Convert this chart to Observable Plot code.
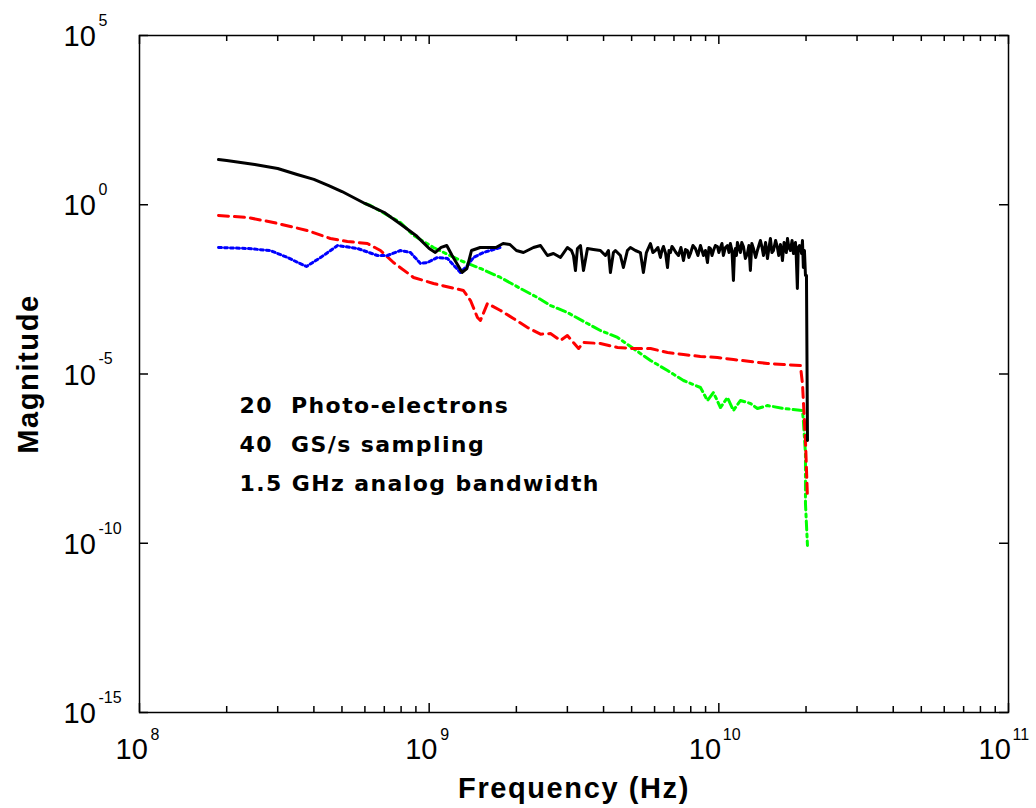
<!DOCTYPE html>
<html><head><meta charset="utf-8">
<script src="https://cdn.jsdelivr.net/npm/d3@7"></script>
<script src="https://cdn.jsdelivr.net/npm/@observablehq/plot@0.6"></script>
<style>
html,body{margin:0;padding:0;background:#fff;}
</style></head><body><div id="chart"></div>
<script>
// ---- data (frequency in Hz, magnitude) ----
const blackFreq = [1.874e8,2.0e8,2.5e8,3.0e8,3.5e8,4.0e8,4.5e8,5.0e8,6.0e8,7.0e8,8.0e8,9.0e8,1.0e9,1.05e9,1.1e9,1.15e9,1.2e9,1.3e9,1.35e9,1.4e9,1.5e9,1.7e9,1.8e9,1.9e9,2.0e9,
  2.116e9,2.291e9,2.423e9,2.561e9,2.686e9,2.84e9,3.0e9,3.099e9,3.149e9,3.199e9,3.25e9,3.329e9,3.41e9,3.52e9,3.69e9,3.90e9,4.06e9,4.157e9,4.224e9,4.326e9,4.395e9,4.573e9,4.683e9,4.834e9,4.951e9,
  5.152e9,5.361e9,5.49e9,5.623e9,5.805e9,5.92e9,6.041e9,6.16e9,6.286e9,6.36e9,6.438e9,6.55e9,6.65e9,6.73e9,6.808e9,6.89e9,6.972e9,7.11e9,7.255e9,7.40e9,7.55e9,7.67e9,7.79e9,7.88e9,7.98e9,
  8.14e9,8.30e9,8.47e9,8.64e9,8.75e9,8.85e9,8.99e9,9.136e9,9.25e9,9.354e9,9.47e9,9.58e9,9.73e9,9.89e9,1.0e10,1.013e10,1.025e10,1.037e10,1.054e10,1.071e10,1.084e10,1.096e10,1.11e10,1.123e10,
  1.132e10,1.141e10,1.15e10,1.159e10,1.173e10,1.187e10,1.20e10,1.216e10,1.235e10,1.255e10,1.27e10,1.285e10,1.30e10,1.317e10,1.34e10,1.359e10,1.375e10,1.392e10,1.41e10,1.426e10,1.45e10,1.472e10,
  1.49e10,1.507e10,1.525e10,1.544e10,1.57e10,1.593e10,1.61e10,1.632e10,1.645e10,1.658e10,1.68e10,1.698e10,1.71e10,1.726e10,1.745e10,1.767e10,1.79e10,1.81e10,1.825e10,1.839e10,1.85e10,1.867e10,
  1.88e10,1.898e10,1.912e10,1.93e10,1.944e10,1.958e10,1.975e10,1.991e10,2.007e10,2.023e10];
const blackMag = [21.7,20.3,15.5,11.8,7.8,5.6,3.7,2.46,1.09,0.59,0.26,0.124,0.051,0.039,0.055,0.0625,0.0316,0.01,0.0131,0.0445,0.0546,0.0546,0.0716,0.067,0.0445,
  0.0388,0.0546,0.0625,0.0317,0.0363,0.0277,0.0546,0.0445,0.0317,0.0114,0.051,0.0625,0.0114,0.051,0.0477,0.0445,0.0317,0.0445,0.00995,0.0388,0.0445,0.0317,0.014,0.0445,0.0546,
  0.0445,0.0388,0.00995,0.0388,0.0716,0.0388,0.0445,0.0546,0.0277,0.0445,0.0585,0.0363,0.014,0.0445,0.0388,0.0585,0.051,0.0388,0.0317,0.0546,0.0225,0.0477,0.0445,0.0277,0.0363,
  0.0625,0.051,0.0317,0.0625,0.0445,0.0317,0.0445,0.0197,0.0546,0.051,0.0317,0.0445,0.0625,0.0585,0.0388,0.0546,0.0716,0.0317,0.0546,0.0625,0.0388,0.0716,0.0445,0.00578,
  0.0363,0.051,0.0317,0.0767,0.0546,0.0388,0.0767,0.0585,0.0258,0.0363,0.0625,0.0114,0.0716,0.051,0.0277,0.0445,0.0625,0.0879,0.0546,0.0317,0.0767,0.0258,
  0.0546,0.1007,0.0388,0.0445,0.0879,0.0546,0.0317,0.067,0.0445,0.0225,0.0767,0.0625,0.0388,0.1007,0.0546,0.0445,0.0879,0.0363,0.0625,0.0767,0.0317,0.00336,
  0.0546,0.0625,0.0546,0.0363,0.0879,0.014,0.0445,0.0081,0.0081,1.08e-7];

const greenFreq = [6.0e8,6.27e8,7.96e8,8.83e8,1.035e9,1.282e9,1.503e9,1.763e9,2.066e9,2.365e9,2.622e9,3.0e9,3.52e9,3.90e9,4.47e9,5.07e9,5.81e9,6.65e9,7.55e9,8.64e9,9.136e9,9.58e9,1.013e10,1.071e10,1.123e10,1.187e10,1.285e10,1.359e10,1.472e10,1.671e10,1.944e10,1.958e10,1.991e10,1.991e10,2.023e10];
const greenMag = [1.09,0.95,0.299,0.124,0.0546,0.0225,0.0131,0.0071,0.00336,0.00182,0.00106,6.56e-4,3.1e-4,1.93e-4,1.2e-4,5.66e-5,2.5e-5,1.27e-5,6.43e-6,3.99e-6,1.65e-6,2.84e-6,1.02e-6,2.02e-6,8.35e-7,1.65e-6,1.35e-6,9.57e-7,1.17e-6,9.57e-7,8.35e-7,4.23e-7,4.48e-8,1.49e-9,8.6e-11];

const redFreq = [1.874e8,2.36e8,2.90e8,3.80e8,4.56e8,5.22e8,6.12e8,6.79e8,7.53e8,8.83e8,1.035e9,1.184e9,1.313e9,1.389e9,1.468e9,1.503e9,1.589e9,1.763e9,1.954e9,2.185e9,2.423e9,2.622e9,2.84e9,3.0e9,3.28e9,3.41e9,3.90e9,4.47e9,5.07e9,5.81e9,6.65e9,7.55e9,8.64e9,9.89e9,1.123e10,1.285e10,1.472e10,1.671e10,1.912e10,1.944e10,1.991e10,2.023e10];
const redMag = [0.481,0.42,0.299,0.173,0.1007,0.082,0.0716,0.0445,0.0197,0.0071,0.00472,0.00359,0.00293,0.00148,4.67e-4,3.81e-4,0.00121,7.52e-4,4.36e-4,2.37e-4,1.5e-4,1.57e-4,9.77e-5,1.37e-4,5.66e-5,8.53e-5,7.96e-5,6.07e-5,5.66e-5,5.66e-5,4.31e-5,3.77e-5,3.29e-5,3.07e-5,2.68e-5,2.34e-5,2.04e-5,1.91e-5,1.78e-5,5.24e-6,1.08e-7,2.25e-9];

const blueFreq = [1.874e8,2.36e8,2.83e8,3.24e8,3.77e8,4.22e8,4.83e8,5.66e8,6.63e8,7.18e8,7.96e8,8.62e8,9.33e8,9.87e8,1.068e9,1.157e9,1.282e9,1.356e9,1.422e9,1.539e9,1.763e9];
const blueMag = [0.0546,0.051,0.0445,0.0277,0.015,0.0277,0.0625,0.051,0.0317,0.0317,0.0445,0.0388,0.0184,0.0197,0.0277,0.0258,0.00995,0.016,0.0277,0.0388,0.0546];

const xMajor = [1e8,1e9,1e10,1e11];
const xExp = ["8","9","10","11"];
const yMajor = [1e-15,1e-10,1e-5,1e0,1e5];
const yExp = ["-15","-10","-5","0","5"];
const xMinorDecades = [1e8,1e9,1e10];
const minorSteps = [2,3,4,5,6,7,8,9];
const noteText = "20\u00a0 Photo-electrons\n40\u00a0 GS/s sampling\n1.5 GHz analog bandwidth";
const xTitle = "Frequency (Hz)";
const yTitle = "Magnitude";

// ---- build ----
const table = (fs, ms) => fs.map((f, i) => ({f, m: ms[i]}));
const xMinor = xMinorDecades.flatMap(d => minorSteps.map(k => k * d));
const xTicks = xMajor.map((v, i) => ({v, e: xExp[i]}));
const yTicks = yMajor.map((v, i) => ({v, e: yExp[i]}));
const W = 1036, H = 808, ML = 139, MR = 28, MT = 35, MB = 96;
const FW = W - ML - MR, FH = H - MT - MB;
const FONT = "Liberation Sans, Arial, Helvetica, sans-serif";
const ink = "#000";

const xLabelMarks = [];
for (const single of [true, false]) {
  const d = xTicks.filter(t => (t.e.length === 1) === single);
  xLabelMarks.push(
    Plot.text(d, {x: "v", text: () => "10", frameAnchor: "bottom", textAnchor: "start", lineAnchor: "top",
      dx: single ? -24 : -30, dy: 26, fontSize: 29, fontFamily: FONT, fill: ink}),
    Plot.text(d, {x: "v", text: "e", frameAnchor: "bottom", textAnchor: "start", lineAnchor: "top",
      dx: single ? 11 : 4, dy: 16, fontSize: 16, fontFamily: FONT, fill: ink})
  );
}

const chart = Plot.plot({
  width: W, height: H,
  marginLeft: ML, marginRight: MR, marginTop: MT, marginBottom: MB,
  style: {background: "#fff", color: ink},
  x: {type: "log", domain: [1e8, 1e11], axis: null},
  y: {type: "log", domain: [1e-15, 1e5], axis: null},
  marks: [
    Plot.line(table(greenFreq, greenMag), {x: "f", y: "m", stroke: "#00ff00", strokeWidth: 3, strokeDasharray: "9,4,3,4"}),
    Plot.line(table(redFreq, redMag), {x: "f", y: "m", stroke: "#ff0000", strokeWidth: 3, strokeDasharray: "10,6"}),
    Plot.line(table(blueFreq, blueMag), {x: "f", y: "m", stroke: "#0000ff", strokeWidth: 3, strokeDasharray: "3,3"}),
    Plot.line(table(blackFreq, blackMag), {x: "f", y: "m", stroke: "#000", strokeWidth: 3}),
    // ticks (inward, on all four sides)
    Plot.tickX(xMinor, {x: d => d, insetTop: FH - 6, stroke: ink, strokeWidth: 1.5}),
    Plot.tickX(xMinor, {x: d => d, insetBottom: FH - 6, stroke: ink, strokeWidth: 1.5}),
    Plot.tickX(xMajor, {x: d => d, insetTop: FH - 9, stroke: ink, strokeWidth: 1.5}),
    Plot.tickX(xMajor, {x: d => d, insetBottom: FH - 9, stroke: ink, strokeWidth: 1.5}),
    Plot.tickY(yMajor, {y: d => d, insetRight: FW - 9, stroke: ink, strokeWidth: 1.5}),
    Plot.tickY(yMajor, {y: d => d, insetLeft: FW - 9, stroke: ink, strokeWidth: 1.5}),
    Plot.frame({stroke: ink, strokeWidth: 1.5}),
    // tick labels
    ...xLabelMarks,
    Plot.text(yTicks, {y: "v", text: () => "10", frameAnchor: "left", textAnchor: "start", lineAnchor: "top",
      dx: -76, dy: -10, fontSize: 29, fontFamily: FONT, fill: ink}),
    Plot.text(yTicks, {y: "v", text: "e", frameAnchor: "left", textAnchor: "start", lineAnchor: "top",
      dx: -41, dy: -21, fontSize: 16, fontFamily: FONT, fill: ink}),
    // titles
    Plot.text([xTitle], {text: d => d, frameAnchor: "bottom", lineAnchor: "top", textAnchor: "middle", dy: 65,
      fontSize: 29, fontWeight: "bold", fontFamily: FONT, fill: ink}),
    Plot.text([yTitle], {text: d => d, frameAnchor: "left", rotate: -90, lineAnchor: "middle", textAnchor: "middle", dx: -111,
      fontSize: 29, fontWeight: "bold", fontFamily: FONT, fill: ink}),
    // annotation
    Plot.text([noteText], {text: d => d, frameAnchor: "top-left", textAnchor: "start", lineAnchor: "top", dx: 100, dy: 350,
      lineHeight: 39 / 22, fontSize: 22, fontWeight: "bold", fontFamily: "DejaVu Sans", fill: ink})
  ]
});
// letter spacing for the wide bitmap-like fonts of the original
d3.select(chart).selectAll("text").each(function () {
  const t = this.textContent;
  if (t === xTitle || t === yTitle) this.setAttribute("letter-spacing", "1.6px");
  else if (t.startsWith("20")) this.setAttribute("letter-spacing", "1.4px");
});
document.getElementById("chart").appendChild(chart);
</script></body></html>
